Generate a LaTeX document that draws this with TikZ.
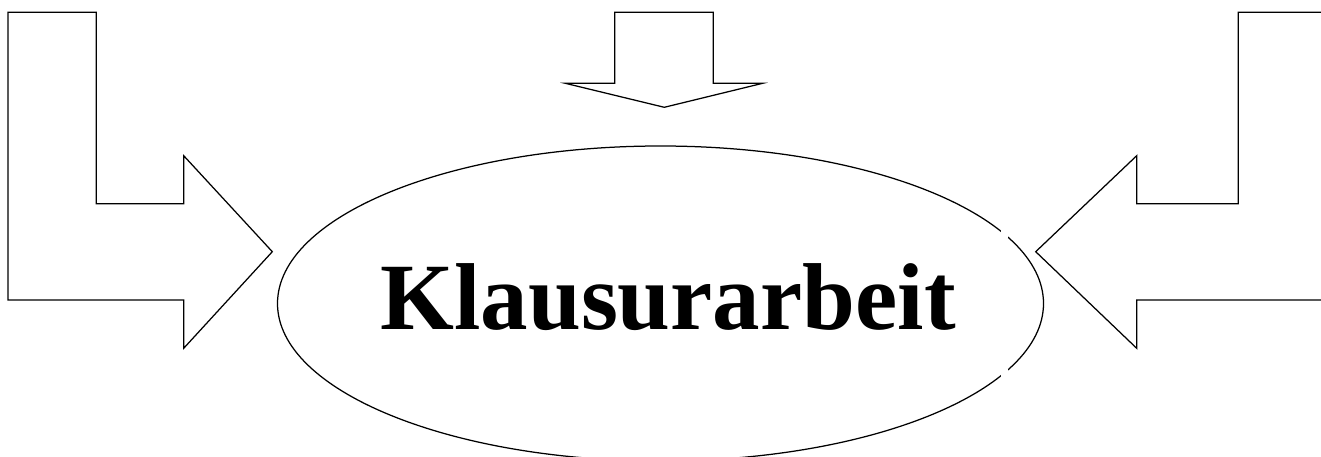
\documentclass[tikz,border=0pt]{standalone}
\usepackage{fontspec}
\setmainfont{Liberation Serif}
\usetikzlibrary{shapes.geometric}
\begin{document}
\begin{tikzpicture}[x=1pt,y=-1pt,
  outline/.style={draw=black,line width=1.25pt,line join=miter},
  oval/.style={ellipse,draw=black,line width=1.25pt,inner sep=0pt,minimum width=766pt,minimum height=315pt},
  title/.style={font=\fontsize{95}{100}\selectfont\bfseries,inner sep=0pt,anchor=base}]
\useasboundingbox (0,0) rectangle (1321,457);
\clip (0,0) rectangle (1321,457);
% ellipse
\node[oval] (e) at (660.5,303.5) {};
% gaps in the ellipse outline
\fill[white] (1001,229) rectangle (1008,238);
\fill[white] (1001,369) rectangle (1008,378);
% label
\node[title] (t) at (668,329.3) {Klausurarbeit};
% left arrow
\draw[outline] (8,12.3) -- (96.3,12.3) -- (96.3,203.7) -- (183.7,203.7) -- (183.7,155.7)
  -- (272.3,251.7) -- (183.7,348.3) -- (183.7,300) -- (8,300) -- cycle;
% top arrow
\draw[outline] (614.7,12.3) -- (713.3,12.3) -- (713.3,83.3) -- (762.7,83.3) -- (664.3,107.3)
  -- (565.3,83.3) -- (614.7,83.3) -- cycle;
% right arrow
\draw[outline] (1330,12.3) -- (1238.3,12.3) -- (1238.3,203.7) -- (1136.7,203.7) -- (1136.7,155.7)
  -- (1035.7,251.7) -- (1136.7,348.3) -- (1136.7,300) -- (1330,300);
\end{tikzpicture}
\end{document}
